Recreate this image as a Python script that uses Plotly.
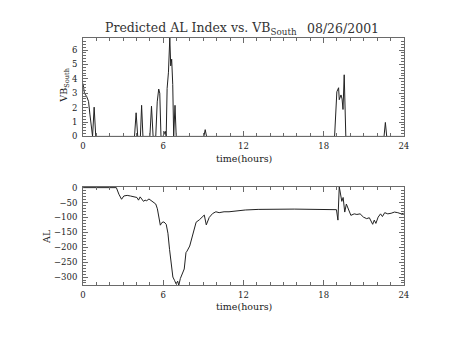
import plotly.graph_objects as go

# Southward IMF component (VB_South) vs. time of day
vb_hours = [0.0, 0.1, 0.27, 0.41, 0.51, 0.64, 0.71, 0.83, 0.95,
            3.85, 3.97, 4.09, 4.29, 4.38, 4.48, 5.0, 5.12, 5.24,
            5.44, 5.55, 5.66, 5.74, 5.83, 5.98, 6.15, 6.22,
            6.29, 6.39, 6.49, 6.56, 6.63, 6.71, 6.78, 6.88, 6.97,
            9.04, 9.14, 9.24,
            18.82, 18.99, 19.12, 19.17, 19.3, 19.38, 19.45, 19.54, 19.6, 19.66,
            22.52, 22.62, 22.72, 24.0]
vb_south = [3.67, 3.0, 2.77, 2.43, 1.55, 0.4, 0.0, 2.03, 0.0,
            0.0, 1.64, 0.0, 0.0, 2.16, 0.0, 0.0, 2.1, 0.0,
            0.0, 2.4, 3.29, 3.0, 0.0, 0.0, 0.36, 0.0,
            3.33, 4.46, 6.85, 4.9, 5.36, 3.6, 0.0, 2.16, 0.0,
            0.0, 0.47, 0.0,
            0.0, 3.1, 3.38, 2.55, 2.88, 2.6, 1.87, 4.28, 2.2, 0.0,
            0.0, 0.97, 0.0, 0.0]

# Predicted AL index vs. time of day
al_hours = [0, 2.49, 2.68, 2.88, 3.05, 3.3, 3.54, 3.79, 4.03, 4.15,
            4.27, 4.39, 4.52, 4.64, 4.76, 4.93, 5.13, 5.3, 5.44, 5.56,
            5.69, 5.78, 5.9, 6.05, 6.22, 6.35, 6.47, 6.6, 6.72, 6.84,
            6.96, 7.08, 7.16, 7.28, 7.45, 7.57, 7.7, 7.78, 7.98, 8.17,
            8.34, 8.46, 8.7, 8.95, 9.07, 9.22, 9.44, 9.69, 9.94, 10.18,
            10.55, 10.92, 11.4, 12.14, 13.1, 14.1, 15.8, 18.96, 19.07, 19.17,
            19.27, 19.36, 19.46, 19.58, 19.7, 19.87, 20.04, 20.29, 20.49, 20.73,
            20.98, 21.22, 21.42, 21.67, 21.79, 21.91, 22.08, 22.26, 22.4, 22.57,
            22.8, 23.05, 23.3, 23.55, 23.8, 24.0]
al_index = [0, 0, -22, -39, -28, -26, -28, -31, -33, -42,
            -31, -38, -46, -42, -44, -38, -44, -50, -55, -71,
            -99, -126, -117, -115, -123, -153, -207, -262, -300, -311,
            -323, -314, -328, -305, -289, -273, -218, -213, -196, -163,
            -139, -116, -108, -95, -92, -125, -100, -87, -81, -84,
            -81, -81, -78, -75, -73, -72, -72, -74, -109, 3,
            -17, -46, -33, -82, -55, -75, -93, -88, -90, -88,
            -99, -104, -101, -123, -109, -120, -99, -88, -97, -84,
            -88, -86, -82, -84, -88, -86]

hour_ticks = [0, 6, 12, 18, 24]
vb_ticks = [0, 1, 2, 3, 4, 5, 6]
al_ticks = [0, -50, -100, -150, -200, -250, -300]

W, H = 454, 341
FONT = "DejaVu Serif"
INK = "#222222"
FRAME = "#6a6a6a"

# panel placement in pixels
x0, x1 = 81.5, 408.0
top_y0, top_y1 = 34.7, 136.0
bot_y0, bot_y1 = 187.7, 289.0


def px_x(v):
    return v / W


def px_y(v):
    return 1 - v / H


fig = go.Figure()
fig.add_trace(go.Scatter(x=vb_hours, y=vb_south, mode="lines",
                         line=dict(color=INK, width=1), xaxis="x", yaxis="y"))
fig.add_trace(go.Scatter(x=al_hours, y=al_index, mode="lines",
                         line=dict(color=INK, width=1), xaxis="x2", yaxis="y2"))

common_x = dict(range=[0, 24], tickvals=hour_ticks, ticks="inside", ticklen=5,
                tickcolor=FRAME, showline=True, linecolor=FRAME, linewidth=1,
                mirror="ticks", showgrid=False, zeroline=False,
                tickfont=dict(family=FONT, size=8.5, color="#222"),
                ticklabelstandoff=1,
                minor=dict(dtick=1, ticks="inside", ticklen=3, tickcolor=FRAME),
                domain=[px_x(x0), px_x(x1)])
common_y = dict(ticks="inside", ticklen=5, tickcolor=FRAME, showline=True,
                linecolor=FRAME, linewidth=1, mirror="ticks", showgrid=False,
                zeroline=False, tickfont=dict(family=FONT, size=8.5, color="#222"),
                ticklabelstandoff=3)

fig.update_layout(
    width=W, height=H, autosize=False, showlegend=False,
    margin=dict(l=0, r=0, t=0, b=0),
    paper_bgcolor="white", plot_bgcolor="white",
    xaxis=dict(**common_x, anchor="y"),
    yaxis=dict(**common_y, anchor="x", range=[0, max(vb_south)],
               tickvals=vb_ticks,
               minor=dict(dtick=0.2, ticks="inside", ticklen=3, tickcolor=FRAME),
               domain=[px_y(top_y1), px_y(top_y0)]),
    xaxis2=dict(**common_x, anchor="y2"),
    yaxis2=dict(**common_y, anchor="x2", range=[min(al_index), max(al_index)],
                tickvals=al_ticks,
                minor=dict(dtick=10, ticks="inside", ticklen=3, tickcolor=FRAME),
                domain=[px_y(bot_y1), px_y(bot_y0)]),
)

ann = []
ann.append(dict(text="Predicted AL Index vs. VB<sub>South</sub>", x=px_x(102),
                y=px_y(25), xanchor="left", yanchor="middle",
                font=dict(family=FONT, size=12.5, color="#333")))
ann.append(dict(text="08/26/2001", x=px_x(307), y=px_y(25), xanchor="left",
                yanchor="middle", font=dict(family=FONT, size=12.5, color="#333")))
for yc in (159, 311):
    ann.append(dict(text="time(hours)", x=px_x(245), y=px_y(yc), xanchor="center",
                    yanchor="middle", font=dict(family=FONT, size=9.5, color="#222")))
ann.append(dict(text="VB<sub>South</sub>", x=px_x(63), y=px_y(83), textangle=-90,
                xanchor="center", yanchor="middle",
                font=dict(family=FONT, size=9.5, color="#222")))
ann.append(dict(text="AL", x=px_x(44), y=px_y(239), textangle=-90,
                xanchor="center", yanchor="middle",
                font=dict(family=FONT, size=9.5, color="#222")))
for a in ann:
    a.update(xref="paper", yref="paper", showarrow=False)
fig.update_layout(annotations=ann)

fig.write_html("out.html")
